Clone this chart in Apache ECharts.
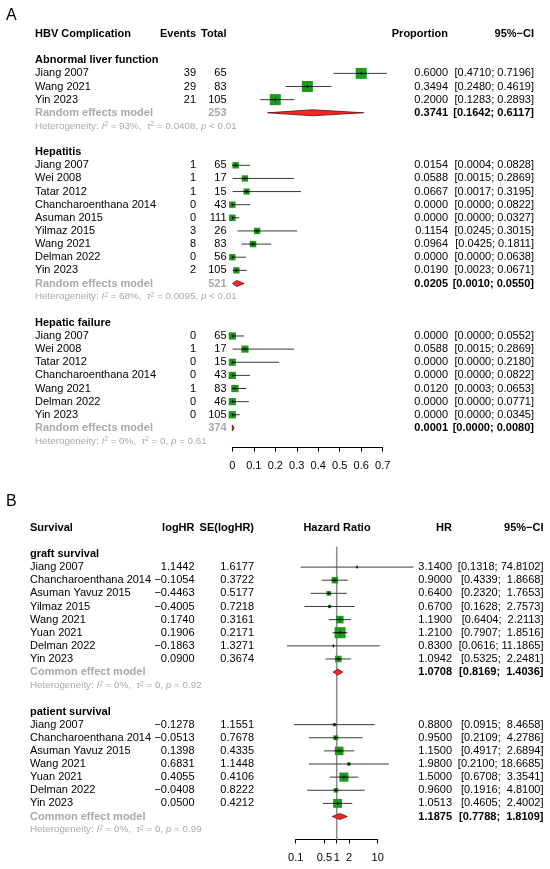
<!DOCTYPE html>
<html>
<head>
<meta charset="utf-8">
<script src="https://cdn.jsdelivr.net/npm/echarts@6/dist/echarts.min.js"></script>
<style>
html, body { margin: 0; padding: 0; background: #fff; }
#main { width: 550px; height: 869px; }
</style>
</head>
<body>
<div id="main"></div>
<script>
'use strict';

// ---- Panel A: HBV complications (proportions) ----
let abnStudies = ['Jiang 2007', 'Wang 2021', 'Yin 2023'];
let abnEvents = [39, 29, 21];
let abnTotal = [65, 83, 105];
let abnProp = [0.6000, 0.3494, 0.2000];
let abnLow = [0.4710, 0.2480, 0.1283];
let abnHigh = [0.7196, 0.4619, 0.2893];
let abnWeight = [33.4, 33.4, 33.2];
let abnSummary = [0.3741, 0.1642, 0.6117];
let abnHet = ['93%', '0.0408', '< 0.01'];

let hepStudies = ['Jiang 2007', 'Wei 2008', 'Tatar 2012', 'Chancharoenthana 2014', 'Asuman 2015', 'Yilmaz 2015', 'Wang 2021', 'Delman 2022', 'Yin 2023'];
let hepEvents = [1, 1, 1, 0, 0, 3, 8, 0, 2];
let hepTotal = [65, 17, 15, 43, 111, 26, 83, 56, 105];
let hepProp = [0.0154, 0.0588, 0.0667, 0.0000, 0.0000, 0.1154, 0.0964, 0.0000, 0.0190];
let hepLow = [0.0004, 0.0015, 0.0017, 0.0000, 0.0000, 0.0245, 0.0425, 0.0000, 0.0023];
let hepHigh = [0.0828, 0.2869, 0.3195, 0.0822, 0.0327, 0.3015, 0.1811, 0.0638, 0.0671];
let hepWeight = [11.3, 10.8, 10.7, 11.2, 11.6, 10.9, 11.5, 11.1, 10.9];
let hepSummary = [0.0205, 0.0010, 0.0550];
let hepHet = ['68%', '0.0095', '< 0.01'];

let failStudies = ['Jiang 2007', 'Wei 2008', 'Tatar 2012', 'Chancharoenthana 2014', 'Wang 2021', 'Delman 2022', 'Yin 2023'];
let failEvents = [0, 1, 0, 0, 1, 0, 0];
let failTotal = [65, 17, 15, 43, 83, 46, 105];
let failProp = [0.0000, 0.0588, 0.0000, 0.0000, 0.0120, 0.0000, 0.0000];
let failLow = [0.0000, 0.0015, 0.0000, 0.0000, 0.0003, 0.0000, 0.0000];
let failHigh = [0.0552, 0.2869, 0.2180, 0.0822, 0.0653, 0.0771, 0.0345];
let failWeight = [14.4, 14.0, 13.9, 14.3, 14.6, 14.2, 14.6];
let failSummary = [0.0001, 0.0000, 0.0080];
let failHet = ['0%', '0', '= 0.61'];

let axisTicksA = [0, 0.1, 0.2, 0.3, 0.4, 0.5, 0.6, 0.7];

// ---- Panel B: survival (hazard ratios) ----
let graftStudies = ['Jiang 2007', 'Chancharoenthana 2014', 'Asuman Yavuz 2015', 'Yilmaz 2015', 'Wang 2021', 'Yuan 2021', 'Delman 2022', 'Yin 2023'];
let graftLogHR = [1.1442, -0.1054, -0.4463, -0.4005, 0.1740, 0.1906, -0.1863, 0.0900];
let graftSE = [1.6177, 0.3722, 0.5177, 0.7218, 0.3161, 0.2171, 1.3271, 0.3674];
let graftHR = [3.1400, 0.9000, 0.6400, 0.6700, 1.1900, 1.2100, 0.8300, 1.0942];
let graftLow = [0.1318, 0.4339, 0.2320, 0.1628, 0.6404, 0.7907, 0.0616, 0.5325];
let graftHigh = [74.8102, 1.8668, 1.7653, 2.7573, 2.2113, 1.8516, 11.1865, 2.2481];
let graftSummary = [1.0708, 0.8169, 1.4036];
let graftHet = ['0%', '0', '= 0.92'];

let patStudies = ['Jiang 2007', 'Chancharoenthana 2014', 'Asuman Yavuz 2015', 'Wang 2021', 'Yuan 2021', 'Delman 2022', 'Yin 2023'];
let patLogHR = [-0.1278, -0.0513, 0.1398, 0.6831, 0.4055, -0.0408, 0.0500];
let patSE = [1.1551, 0.7678, 0.4335, 1.1448, 0.4106, 0.8222, 0.4212];
let patHR = [0.8800, 0.9500, 1.1500, 1.9800, 1.5000, 0.9600, 1.0513];
let patLow = [0.0915, 0.2109, 0.4917, 0.2100, 0.6708, 0.1916, 0.4605];
let patHigh = [8.4658, 4.2786, 2.6894, 18.6685, 3.3541, 4.8100, 2.4002];
let patSummary = [1.1875, 0.7788, 1.8109];
let patHet = ['0%', '0', '= 0.99'];

let axisTicksB = [0.1, 0.5, 1, 2, 10];

// ---- styling ----
const FONT = "'Liberation Sans', Arial, Helvetica, sans-serif";
const GREY = '#a9a9a9';
const GREEN = '#1b9a1b';
const FS = 11;
const FS_HET = 9.8;

let colA = { name: 35, events: 196, total: 226.5, est: 448, ci: 534 };
let colB = { name: 30, logHR: 194.5, se: 254, plot: 337, est: 452, ci: 543.5 };

function minus(s) {
	return s.replace('-', '\u2212');
}

function txt(x, text, align, opt) {
	return Object.assign({ x: x, text: text, align: align }, opt || {});
}

function hetCell(x, het) {
	let tok = { fontSize: FS_HET, fontFamily: FONT, fill: GREY, color: GREY };
	let ital = Object.assign({}, tok, { fontStyle: 'italic' });
	let sup = Object.assign({}, tok, { fontSize: 6.8, verticalAlign: 'top', lineHeight: 6 });
	return {
		x: x,
		align: 'left',
		size: FS_HET,
		color: GREY,
		text: 'Heterogeneity: {i|I}{s|2} = ' + het[0] + ',  {i|\u03c4}{s|2} = ' + het[1] + ', {i|p} ' + het[2],
		rich: { i: ital, s: sup }
	};
}

// ---- build panel A rows ----
let groupsA = [
	['Abnormal liver function', abnStudies, abnEvents, abnTotal, abnProp, abnLow, abnHigh, abnWeight, abnSummary, abnHet],
	['Hepatitis', hepStudies, hepEvents, hepTotal, hepProp, hepLow, hepHigh, hepWeight, hepSummary, hepHet],
	['Hepatic failure', failStudies, failEvents, failTotal, failProp, failLow, failHigh, failWeight, failSummary, failHet]
];

let textA = [{
	row: 0,
	cells: [
		txt(colA.name, 'HBV Complication', 'left', { bold: true }),
		txt(colA.events, 'Events', 'right', { bold: true }),
		txt(colA.total, 'Total', 'right', { bold: true }),
		txt(colA.est, 'Proportion', 'right', { bold: true }),
		txt(colA.ci, '95%\u2212CI', 'right', { bold: true })
	]
}];
let studyA = [];
let diamondA = [];

let r = 2;
for (let g of groupsA) {
	let [title, names, ev, tot, est, lo, hi, w, sum, het] = g;
	textA.push({ row: r, cells: [txt(colA.name, title, 'left', { bold: true })] });
	for (let i = 0; i < names.length; i++) {
		let row = r + 1 + i;
		textA.push({
			row: row,
			cells: [
				txt(colA.name, names[i], 'left'),
				txt(colA.events, String(ev[i]), 'right'),
				txt(colA.total, String(tot[i]), 'right'),
				txt(colA.est, est[i].toFixed(4), 'right'),
				txt(colA.ci, '[' + lo[i].toFixed(4) + '; ' + hi[i].toFixed(4) + ']', 'right')
			]
		});
		studyA.push([est[i], lo[i], hi[i], row, w[i]]);
	}
	let sRow = r + 1 + names.length;
	let totalSum = tot.reduce((a, b) => a + b, 0);
	textA.push({
		row: sRow,
		cells: [
			txt(colA.name, 'Random effects model', 'left', { bold: true, color: GREY }),
			txt(colA.total, String(totalSum), 'right', { bold: true, color: GREY }),
			txt(colA.est, sum[0].toFixed(4), 'right', { bold: true }),
			txt(colA.ci, '[' + sum[1].toFixed(4) + '; ' + sum[2].toFixed(4) + ']', 'right', { bold: true })
		]
	});
	diamondA.push([sum[0], sum[1], sum[2], sRow]);
	textA.push({ row: sRow + 1, cells: [hetCell(colA.name, het)] });
	r = r + 4 + names.length;
}

// ---- build panel B rows ----
let groupsB = [
	['graft survival', graftStudies, graftLogHR, graftSE, graftHR, graftLow, graftHigh, graftSummary, graftHet],
	['patient survival', patStudies, patLogHR, patSE, patHR, patLow, patHigh, patSummary, patHet]
];

function ciB(lo, hi) {
	return '[' + lo.toFixed(4) + '; ' + hi.toFixed(4).padStart(7, ' ') + ']';
}

let textB = [{
	row: 0,
	cells: [
		txt(colB.name, 'Survival', 'left', { bold: true }),
		txt(colB.logHR, 'logHR', 'right', { bold: true }),
		txt(colB.se, 'SE(logHR)', 'right', { bold: true }),
		txt(colB.plot, 'Hazard Ratio', 'center', { bold: true }),
		txt(colB.est, 'HR', 'right', { bold: true }),
		txt(colB.ci, '95%\u2212CI', 'right', { bold: true })
	]
}];
let studyB = [];
let diamondB = [];

r = 2;
for (let g of groupsB) {
	let [title, names, lhr, se, hr, lo, hi, sum, het] = g;
	let inv = se.map(s => 1 / (s * s));
	let invSum = inv.reduce((a, b) => a + b, 0);
	textB.push({ row: r, cells: [txt(colB.name, title, 'left', { bold: true })] });
	for (let i = 0; i < names.length; i++) {
		let row = r + 1 + i;
		textB.push({
			row: row,
			cells: [
				txt(colB.name, names[i], 'left'),
				txt(colB.logHR, minus(lhr[i].toFixed(4)), 'right'),
				txt(colB.se, se[i].toFixed(4), 'right'),
				txt(colB.est, hr[i].toFixed(4), 'right'),
				txt(colB.ci, ciB(lo[i], hi[i]), 'right')
			]
		});
		studyB.push([Math.log10(hr[i]), Math.log10(lo[i]), Math.log10(hi[i]), row, 100 * inv[i] / invSum]);
	}
	let sRow = r + 1 + names.length;
	textB.push({
		row: sRow,
		cells: [
			txt(colB.name, 'Common effect model', 'left', { bold: true, color: GREY }),
			txt(colB.est, sum[0].toFixed(4), 'right', { bold: true }),
			txt(colB.ci, ciB(sum[1], sum[2]), 'right', { bold: true })
		]
	});
	diamondB.push([Math.log10(sum[0]), Math.log10(sum[1]), Math.log10(sum[2]), sRow]);
	textB.push({ row: sRow + 1, cells: [hetCell(colB.name, het)] });
	r = r + 4 + names.length;
}

// ---- renderers ----
function textRenderer(rows) {
	return function (params, api) {
		let item = rows[params.dataIndex];
		let y = api.coord([api.value(0), api.value(1)])[1];
		return {
			type: 'group',
			children: item.cells.map(c => {
				let style = {
					text: c.text,
					fill: c.color || '#000',
					fontSize: c.size || FS,
					fontWeight: c.bold ? 'bold' : 'normal',
					fontFamily: FONT,
					align: c.align,
					textAlign: c.align,
					verticalAlign: 'middle',
					textVerticalAlign: 'middle'
				};
				if (c.rich) {
					style.rich = c.rich;
				}
				return { type: 'text', x: c.x, y: y, style: style };
			})
		};
	};
}

function studyRenderer(k) {
	return function (params, api) {
		let row = api.value(3);
		let p = api.coord([api.value(0), row]);
		let lo = api.coord([api.value(1), row]);
		let hi = api.coord([api.value(2), row]);
		let side = k * Math.sqrt(api.value(4));
		return {
			type: 'group',
			children: [
				{ type: 'line', shape: { x1: lo[0], y1: p[1], x2: hi[0], y2: p[1] }, style: { stroke: '#3a3a3a', lineWidth: 1 } },
				{ type: 'rect', shape: { x: p[0] - side / 2, y: p[1] - side / 2, width: side, height: side }, style: { fill: GREEN } },
				{ type: 'line', shape: { x1: Math.max(lo[0], p[0] - side / 2), y1: p[1], x2: Math.min(hi[0], p[0] + side / 2), y2: p[1] }, style: { stroke: '#000', lineWidth: 1 } },
				{ type: 'line', shape: { x1: p[0], y1: p[1] - 1.5, x2: p[0], y2: p[1] + 1.5 }, style: { stroke: '#000', lineWidth: 1 } }
			]
		};
	};
}

function diamondRenderer(params, api) {
	let row = api.value(3);
	let p = api.coord([api.value(0), row]);
	let lo = api.coord([api.value(1), row]);
	let hi = api.coord([api.value(2), row]);
	let h = 3;
	return {
		type: 'polygon',
		shape: { points: [[lo[0], p[1]], [p[0], p[1] - h], [hi[0], p[1]], [p[0], p[1] + h]] },
		style: { fill: '#ff2626', stroke: '#5a0a0a', lineWidth: 0.8 }
	};
}

function refLineRenderer(params, api) {
	let a = api.coord([api.value(0), api.value(1)]);
	let b = api.coord([api.value(0), api.value(2)]);
	return {
		type: 'line',
		shape: { x1: a[0], y1: a[1], x2: b[0], y2: b[1] },
		style: { stroke: '#8a8a8a', lineWidth: 1.5 }
	};
}

function customSeries(grid, data, render, z) {
	return {
		type: 'custom',
		coordinateSystem: 'cartesian2d',
		xAxisIndex: grid,
		yAxisIndex: grid,
		data: data,
		renderItem: render,
		clip: false,
		silent: true,
		animation: false,
		z: z
	};
}

let myChart = echarts.init(document.getElementById('main'), null, { renderer: 'canvas' });

let axisLabelStyle = { color: '#000', fontSize: FS, fontFamily: FONT, margin: 13 };

let option = {
	animation: false,
	backgroundColor: '#fff',
	graphic: [
		{ type: 'text', left: 6, top: 8, style: { text: 'A', fontSize: 16, fontFamily: FONT, fill: '#000' } },
		{ type: 'text', left: 6, top: 494, style: { text: 'B', fontSize: 16, fontFamily: FONT, fill: '#000' } }
	],
	grid: [
		{ left: 232.3, top: 34, width: 150.4, height: 413.6, outerBoundsMode: 'none' },
		{ left: 295.7, top: 527.7, width: 82, height: 311.8, outerBoundsMode: 'none' }
	],
	xAxis: [{
		gridIndex: 0,
		type: 'value',
		min: axisTicksA[0],
		max: axisTicksA[axisTicksA.length - 1],
		interval: 0.1,
		position: 'bottom',
		axisLine: { show: true, onZero: false, lineStyle: { color: '#000', width: 1 } },
		axisTick: { show: true, length: 4, lineStyle: { color: '#000' } },
		axisLabel: Object.assign({ formatter: v => String(Math.round(v * 10) / 10) }, axisLabelStyle),
		splitLine: { show: false }
	}, {
		gridIndex: 1,
		type: 'value',
		min: Math.log10(axisTicksB[0]),
		max: Math.log10(axisTicksB[axisTicksB.length - 1]),
		position: 'bottom',
		axisLine: { show: true, onZero: false, lineStyle: { color: '#000', width: 1 } },
		axisTick: { show: true, length: 4, lineStyle: { color: '#000' }, customValues: axisTicksB.map(v => Math.log10(v)) },
		axisLabel: Object.assign({
			customValues: axisTicksB.map(v => Math.log10(v)),
			formatter: v => String(Math.round(Math.pow(10, v) * 10) / 10)
		}, axisLabelStyle),
		splitLine: { show: false }
	}],
	yAxis: [
		{ gridIndex: 0, type: 'value', min: 0, max: 31.5, inverse: true, show: false, splitLine: { show: false } },
		{ gridIndex: 1, type: 'value', min: 0, max: 23.75, inverse: true, show: false, splitLine: { show: false } }
	],
	series: [
		customSeries(0, textA.map(t => [0, t.row]), textRenderer(textA), 5),
		customSeries(0, studyA, studyRenderer(1.91), 3),
		customSeries(0, diamondA, diamondRenderer, 3),
		customSeries(1, [[0, 1.45, 23.75]], refLineRenderer, 2),
		customSeries(1, textB.map(t => [0, t.row]), textRenderer(textB), 5),
		customSeries(1, studyB, studyRenderer(1.73), 3),
		customSeries(1, diamondB, diamondRenderer, 3)
	]
};

myChart.setOption(option);
</script>
</body>
</html>
